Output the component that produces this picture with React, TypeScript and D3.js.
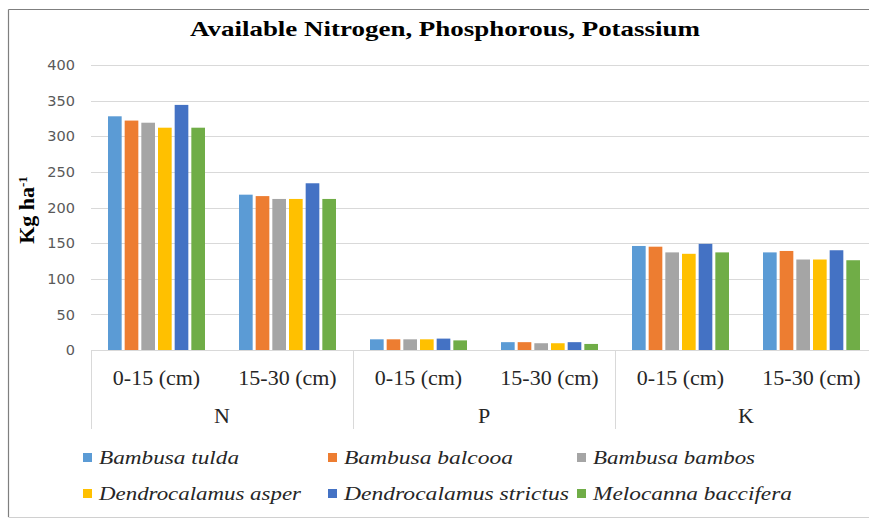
import React from "react";
import * as d3 from "d3";

const groups = ["N", "P", "K"];
const depths = ["0-15 (cm)", "15-30 (cm)"];
const series = [
  "Bambusa tulda",
  "Bambusa balcooa",
  "Bambusa bambos",
  "Dendrocalamus asper",
  "Dendrocalamus strictus",
  "Melocanna baccifera",
];
const colors = ["#5B9BD5", "#ED7D31", "#A5A5A5", "#FFC000", "#4472C4", "#70AD47"];
// values per series, in category order: N 0-15, N 15-30, P 0-15, P 15-30, K 0-15, K 15-30
const tulda = [328, 218, 15, 11, 146, 137];
const balcooa = [322, 216, 15, 11, 145, 139];
const bambos = [319, 212, 15, 9.5, 137, 127];
const asper = [312, 212, 15, 9.5, 135, 127];
const strictus = [344, 234, 16, 11, 149, 140];
const melocanna = [312, 212, 13.5, 8.5, 137, 126];
const seriesValues = [tulda, balcooa, bambos, asper, strictus, melocanna];
const yTicks = [0, 50, 100, 150, 200, 250, 300, 350, 400];
const legendWidths = [140, 169, 162, 202, 225, 199];

const W = 869;
const H = 520;
const plotLeft = 91;
const plotRight = 877;
const plotTop = 65;
const plotBottom = 350;
const SERIF = "'Liberation Serif', Tinos, 'Times New Roman', serif";

export default function App() {
  const categories = groups.flatMap((g) => depths.map((d) => `${g}|${d}`));
  const x = d3.scaleBand<string>().domain(categories).range([plotLeft, plotRight]).paddingInner(0).paddingOuter(0);
  const cw = x.bandwidth();
  const inner = d3
    .scaleBand<string>()
    .domain(series)
    .range([(cw - 100) / 2, (cw + 100) / 2])
    .padding(0);
  const barW = inner.bandwidth() * 0.82;
  const y = d3.scaleLinear().domain([0, 400]).range([plotBottom, plotTop]);
  const groupW = cw * 2;

  const legendCols = [83, 328, 577];
  const legendRows = [464, 500];

  return (
    <svg
      width={W}
      height={H}
      style={{ position: "absolute", left: 0, top: 0, background: "#fff" }}
    >
      <rect x={0} y={0} width={W} height={H} fill="#fff" />
      {/* chart border */}
      <line x1={8.5} y1={9.5} x2={W} y2={9.5} stroke="#7f7f7f" strokeWidth={1.2} />
      <line x1={8.5} y1={9.5} x2={8.5} y2={517} stroke="#7f7f7f" strokeWidth={1.2} />
      <line x1={8.5} y1={517.5} x2={W} y2={517.5} stroke="#d0d0d0" strokeWidth={1} />

      <text
        x={445}
        y={36}
        textAnchor="middle"
        style={{ fontFamily: SERIF }}
        fontWeight="bold"
        fontSize={22}
        textLength={510}
        lengthAdjust="spacingAndGlyphs"
        fill="#000"
      >
        Available Nitrogen, Phosphorous, Potassium
      </text>

      {/* gridlines */}
      {yTicks.map((t) => (
        <line
          key={t}
          x1={plotLeft}
          x2={W}
          y1={Math.round(y(t)) + 0.5}
          y2={Math.round(y(t)) + 0.5}
          stroke="#d9d9d9"
          strokeWidth={1}
        />
      ))}
      {yTicks.map((t) => (
        <text
          key={"l" + t}
          x={75}
          y={y(t)}
          dy="0.36em"
          textAnchor="end"
          style={{ fontFamily: "'DejaVu Sans', sans-serif" }}
          fontSize={14.5}
          fill="#595959"
        >
          {t}
        </text>
      ))}

      {/* y-axis title */}
      <text
        transform={`translate(34, 210) rotate(-90)`}
        textAnchor="middle"
        style={{ fontFamily: SERIF }}
        fontWeight="bold"
        fontSize={22}
        fill="#000"
      >
        Kg ha
        <tspan baselineShift="super" fontSize={13}>
          -1
        </tspan>
      </text>

      {/* bars */}
      {seriesValues.map((vals, si) =>
        vals.map((v, ci) => {
          const cx = (x(categories[ci]) as number) + (inner(series[si]) as number) + inner.bandwidth() / 2;
          return (
            <rect
              key={`${si}-${ci}`}
              x={cx - barW / 2}
              y={y(v)}
              width={barW}
              height={plotBottom - y(v)}
              fill={colors[si]}
            />
          );
        })
      )}

      {/* category axis separators */}
      {[0, 1, 2, 3].map((i) => (
        <line
          key={"s" + i}
          x1={plotLeft + i * groupW + 0.5}
          x2={plotLeft + i * groupW + 0.5}
          y1={plotBottom}
          y2={429}
          stroke="#d9d9d9"
        />
      ))}
      {categories.map((c) => (
        <text
          key={"c" + c}
          x={(x(c) as number) + cw / 2}
          y={385}
          textAnchor="middle"
          style={{ fontFamily: SERIF }}
          fontSize={22}
          fill="#262626"
        >
          {c.split("|")[1]}
        </text>
      ))}
      {groups.map((g, i) => (
        <text
          key={"g" + g}
          x={plotLeft + i * groupW + groupW / 2}
          y={423}
          textAnchor="middle"
          style={{ fontFamily: SERIF }}
          fontSize={22}
          fill="#262626"
        >
          {g}
        </text>
      ))}

      {/* legend */}
      {series.map((s, i) => {
        const col = i % 3;
        const row = Math.floor(i / 3);
        const lx = legendCols[col];
        const ly = legendRows[row];
        return (
          <g key={"lg" + s}>
            <rect x={lx} y={ly - 11} width={9} height={9} fill={colors[i]} />
            <text
              x={lx + 16}
              y={ly}
              style={{ fontFamily: SERIF }}
              fontStyle="italic"
              fontSize={19}
              textLength={legendWidths[i]}
              lengthAdjust="spacingAndGlyphs"
              fill="#262626"
            >
              {s}
            </text>
          </g>
        );
      })}
    </svg>
  );
}
